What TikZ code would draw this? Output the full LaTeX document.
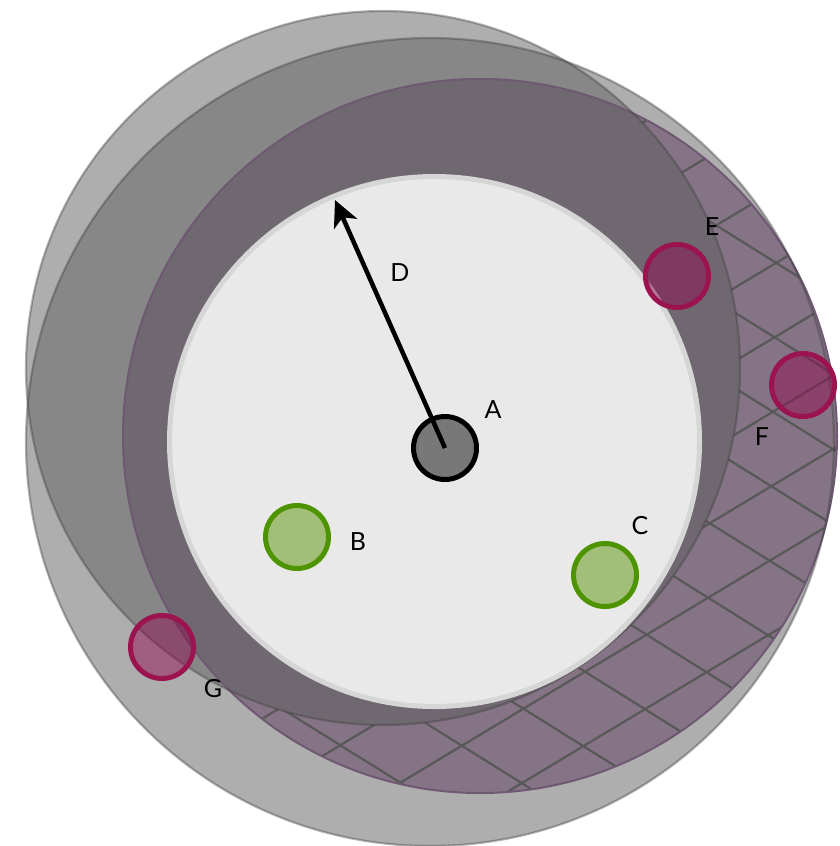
\documentclass[tikz,border=0pt]{standalone}
\usepackage{fontspec}
\setmainfont{Lato}
\usetikzlibrary{arrows.meta}
\definecolor{lgrey}{HTML}{AEAEAE}
\definecolor{mgrey}{HTML}{878787}
\definecolor{purp}{HTML}{857486}
\definecolor{dpurp}{HTML}{706870}
\definecolor{redgec}{HTML}{6E5872}
\definecolor{hatchc}{HTML}{585858}
\definecolor{innerf}{HTML}{E9E9E9}
\definecolor{innerd}{HTML}{D6D6D6}
\definecolor{gfill}{HTML}{A2BF7A}
\definecolor{gdraw}{HTML}{4E9400}
\definecolor{mfill}{HTML}{91084D}
\definecolor{mdraw}{HTML}{9B1450}
\tikzset{
  edge/.style={draw=black!75, draw opacity=0.4, line width=2.2pt},
  redge/.style={draw=redgec, line width=2pt},
  hatchline/.style={draw=hatchc, line width=2.2pt},
  gnode/.style={circle, minimum size=63pt, inner sep=0pt, fill=gfill, draw=gdraw, line width=5pt},
  mnode/.style={circle, minimum size=63pt, inner sep=0pt, fill=mfill, fill opacity=0.47, draw=mdraw, draw opacity=1, line width=5pt},
  anode/.style={circle, minimum size=63pt, inner sep=0pt, fill=black!53, draw=black, line width=5pt},
  lbl/.style={font=\fontsize{25}{30}\selectfont, text=black, inner sep=0pt},
  arrowline/.style={draw=black, line width=4.5pt, -{Stealth[length=26pt,width=25pt,inset=7pt]}}
}
\begin{document}
\begin{tikzpicture}[x=1pt,y=1pt]
\useasboundingbox (0,0) rectangle (840,-846);
\coordinate (Pc) at (383,-368);
\coordinate (Qc) at (430,-442);
\coordinate (Rc) at (480,-436);
\coordinate (Sc) at (434.5,-441.5);
% base grey discs
\fill[lgrey] (Qc) circle[radius=404pt];
\fill[lgrey] (Pc) circle[radius=357pt];
\begin{scope}
  \clip (Pc) circle[radius=357pt];
  \fill[mgrey] (Qc) circle[radius=404pt];
\end{scope}
% purple hatched ring
\fill[purp] (Rc) circle[radius=357pt];
\begin{scope}
  \clip (Rc) circle[radius=357pt];
  \begin{scope}[shift={(585,-671.7)}, rotate=31]
    \foreach \k in {-11,...,11} \draw[hatchline] (-1000,\k*63) -- (1000,\k*63);
  \end{scope}
  \begin{scope}[shift={(585,-671.7)}, rotate=-32]
    \foreach \k in {-11,...,11} \draw[hatchline] (-1000,\k*64) -- (1000,\k*64);
  \end{scope}
\end{scope}
\begin{scope}
  \clip (Pc) circle[radius=357pt];
  \fill[dpurp] (Rc) circle[radius=357pt];
\end{scope}
% outlines
\draw[redge] (Rc) circle[radius=357pt];
\draw[edge] (Qc) circle[radius=404pt];
\draw[edge] (Pc) circle[radius=357pt];
% inner disc
\draw[draw=innerd, fill=innerf, line width=5pt] (Sc) circle[radius=265pt];
% markers
\node[anode] (A) at (445,-448) {};
\node[gnode] (B) at (297,-537) {};
\node[gnode] (C) at (605,-575) {};
\node[mnode] (E) at (677,-276) {};
\node[mnode] (F) at (803,-385) {};
\node[mnode] (G) at (162,-647) {};
% radius arrow
\coordinate (Dtip) at (335,-200);
\draw[arrowline] (A.center) -- (Dtip);
% labels
\node[lbl] (lA) at (493,-410) {A};
\node[lbl] (lB) at (358,-542) {B};
\node[lbl] (lC) at (640,-526) {C};
\node[lbl] (lD) at (400,-273) {D};
\node[lbl] (lE) at (712,-227) {E};
\node[lbl] (lF) at (762,-437) {F};
\node[lbl] (lG) at (213,-689) {G};
\end{tikzpicture}
\end{document}
